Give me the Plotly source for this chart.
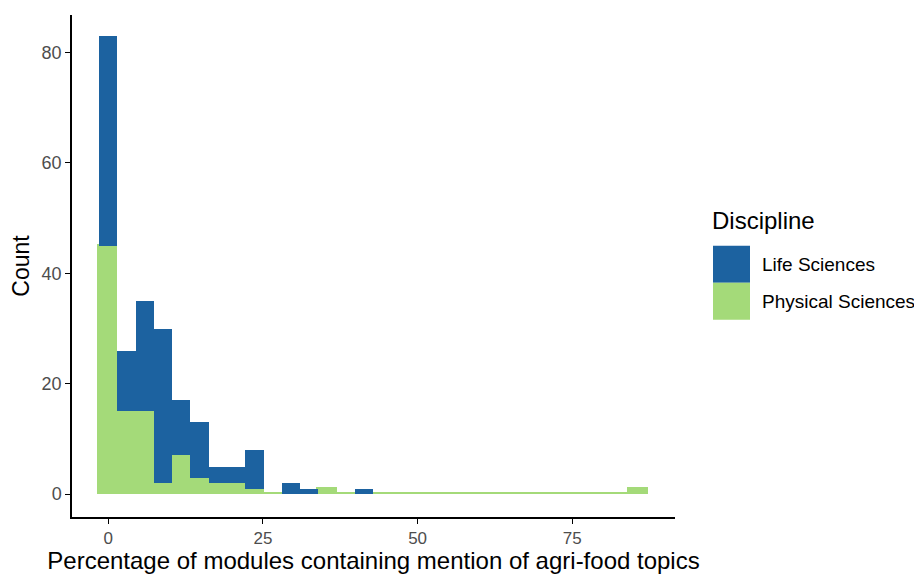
import plotly.graph_objects as go

# Histogram bins (ggplot default 30 bins over 0 .. 85.7)
n_bins = 30
bin_width = 85.7 / 29
bin_centers = [round(i * bin_width, 3) for i in range(n_bins)]

life_sciences = [38, 11, 20, 28, 10, 10, 3, 3, 7, 0, 2, 1, 0, 0, 1,
                 0, 0, 0, 0, 0, 0, 0, 0, 0, 0, 0, 0, 0, 0, 0]
physical_sciences = [45, 15, 15, 2, 7, 3, 2, 2, 1, 0, 0, 0, 1, 0, 0,
                     0, 0, 0, 0, 0, 0, 0, 0, 0, 0, 0, 0, 0, 0, 1]

x_ticks = [0, 25, 50, 75]
y_ticks = [0, 20, 40, 60, 80]

BLUE = "#1c62a0"
GREEN = "#a4da79"
FONT = "Liberation Sans, Arial, sans-serif"

# page offset (browser body margin)
OFF = 8
W, H = 922 - OFF, 574 - OFF
PL, PR, PT, PB = 72, 675, 15, 517.5  # plot area in page pixels
ML = PL - OFF
MT = PT - OFF
MR = W - (PR - OFF)
MB = H - (PB - OFF)

fig = go.Figure()
fig.add_trace(go.Bar(x=bin_centers, y=physical_sciences, width=bin_width,
                     name="Physical Sciences", marker_color=GREEN,
                     marker_line=dict(color=GREEN, width=1.6), showlegend=False))
fig.add_trace(go.Bar(x=bin_centers, y=life_sciences, width=bin_width,
                     name="Life Sciences", marker_color=BLUE,
                     marker_line=dict(width=0), showlegend=False))

fig.update_layout(
    barmode="stack",
    bargap=0,
    width=W, height=H,
    margin=dict(l=ML, r=MR, t=MT, b=MB),
    paper_bgcolor="white", plot_bgcolor="white",
    font=dict(family=FONT, color="black"),
)
fig.update_xaxes(
    range=[-5.85, 91.6], tickvals=x_ticks, ticktext=[str(v) for v in x_ticks],
    showgrid=False, zeroline=False, showline=True, linecolor="black", linewidth=1.5,
    ticks="outside", ticklen=5, tickwidth=1.3, tickcolor="black",
    tickfont=dict(size=17, color="#4d4d4d", family=FONT),
    title=dict(text="Percentage of modules containing mention of agri-food topics",
               font=dict(size=24, color="black", family=FONT), standoff=3),
    automargin=False,
)
fig.update_yaxes(
    range=[-4.15, 86.8], tickvals=y_ticks, ticktext=[str(v) for v in y_ticks],
    showgrid=False, zeroline=False, showline=True, linecolor="black", linewidth=1.5,
    ticks="outside", ticklen=5, tickwidth=1.3, tickcolor="black",
    tickfont=dict(size=18, color="#4d4d4d", family=FONT),
    title=dict(text="Count", font=dict(size=23, color="black", family=FONT), standoff=16),
    automargin=False,
)

# Manual ggplot-style legend (positions in page pixels)
plot_w = PR - PL
plot_h = PB - PT
def fx(p):
    return (p - PL) / plot_w
def fy(p):
    return (PB - p) / plot_h

fig.add_annotation(xref="paper", yref="paper", x=fx(710), y=fy(221), text="Discipline",
                   showarrow=False, xanchor="left", yanchor="middle",
                   font=dict(size=24, color="black", family=FONT))

legend_items = [("Life Sciences", BLUE, 246, 283), ("Physical Sciences", GREEN, 283, 320)]
for label, col, y0, y1 in legend_items:
    fig.add_shape(type="rect", xref="paper", yref="paper",
                  x0=fx(713), x1=fx(750), y0=fy(y1), y1=fy(y0),
                  fillcolor=col, line=dict(width=0))
    fig.add_annotation(xref="paper", yref="paper", x=fx(760), y=fy((y0 + y1) / 2),
                       text=label, showarrow=False, xanchor="left", yanchor="middle",
                       font=dict(size=19, color="black", family=FONT))

fig.write_html("out.html")
